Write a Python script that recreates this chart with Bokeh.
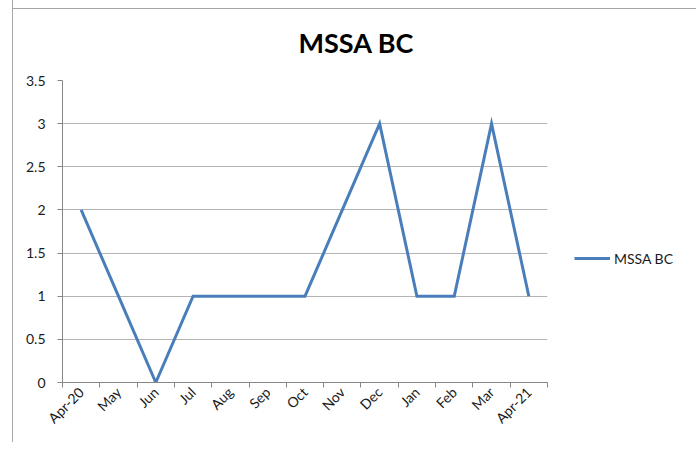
import math
from bokeh.plotting import figure
from bokeh.models import (FactorRange, Range1d, LinearAxis, FixedTicker,
                          CustomJSTickFormatter, Legend, LegendItem, Title, Grid)
from bokeh.embed import file_html
from bokeh.resources import INLINE

# ---- data ----
months = ["Apr-20", "May", "Jun", "Jul", "Aug", "Sep", "Oct",
          "Nov", "Dec", "Jan", "Feb", "Mar", "Apr-21"]
mssa_bc = [2, 1, 0, 1, 1, 1, 1, 2, 3, 1, 1, 3, 1]
y_ticks = [0, 0.5, 1, 1.5, 2, 2.5, 3, 3.5]
title_text = "MSSA BC"
series_name = "MSSA BC"

FONT = "Lato"
AXIS_COL = "#868686"
GRID_COL = "#b3b3b3"
LINE_COL = "#4A7EBB"
FRAME_COL = "#a6a6a6"

p = figure(frame_width=485, frame_height=302,
           x_range=FactorRange(*months), y_range=Range1d(0, 3.5),
           x_axis_type=None, y_axis_type=None,
           output_backend="svg", toolbar_location=None,
           min_border_left=49, min_border_right=141,
           min_border_top=80, min_border_bottom=60)
p.outline_line_color = None
p.border_fill_color = None
p.background_fill_color = "white"
p.styles = {"margin-left": "12px",
            "border-left": f"1px solid {FRAME_COL}",
            "background": f"linear-gradient({FRAME_COL}, {FRAME_COL}) no-repeat 0 8px / 100% 1px"}

p.title = Title(text=title_text, align="left", offset=236, standoff=44,
                text_font=FONT, text_font_style="bold",
                text_font_size="27px", text_color="black")

# y axis + grid
yticker = FixedTicker(ticks=y_ticks)
yaxis = LinearAxis(ticker=yticker,
                   formatter=CustomJSTickFormatter(code="return String(tick)"),
                   axis_line_color=AXIS_COL,
                   major_tick_line_color=AXIS_COL, major_tick_out=5, major_tick_in=0,
                   minor_tick_line_color=None,
                   major_label_standoff=12,
                   major_label_text_font=FONT, major_label_text_font_size="14px",
                   major_label_text_color="#1a1a1a")
p.add_layout(yaxis, "left")
p.add_layout(Grid(dimension=1, ticker=yticker, grid_line_color=GRID_COL))

# x axis: labels at category centres, tick marks at category boundaries
n = len(months)
centres = [i + 0.5 for i in range(n)]
bounds = list(range(n + 1))
xaxis = LinearAxis(ticker=FixedTicker(ticks=centres, minor_ticks=bounds),
                   major_label_overrides={c: m for c, m in zip(centres, months)},
                   axis_line_color=AXIS_COL,
                   major_tick_line_color=None, major_tick_out=0, major_tick_in=0,
                   minor_tick_line_color=AXIS_COL, minor_tick_out=5, minor_tick_in=0,
                   major_label_orientation=math.pi / 4,
                   major_label_standoff=2,
                   major_label_text_font=FONT, major_label_text_font_size="14px",
                   major_label_text_color="#1a1a1a")
p.add_layout(xaxis, "below")

r = p.line(x=months, y=mssa_bc, line_color=LINE_COL, line_width=3,
           line_join="miter")

legend = Legend(items=[LegendItem(label=series_name, renderers=[r])],
                location=(27, 114), border_line_color=None,
                background_fill_alpha=0, padding=0, margin=0,
                glyph_width=36, glyph_height=20, label_height=20,
                label_standoff=4, label_text_font=FONT,
                label_text_font_size="14px", label_text_color="#1a1a1a")
p.add_layout(legend, "right")

open("out.html", "w").write(file_html(p, INLINE))
